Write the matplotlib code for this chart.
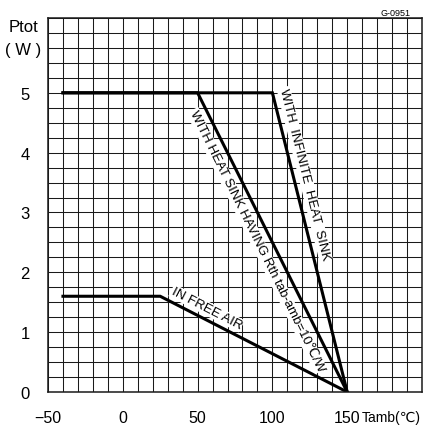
import numpy as np
import matplotlib
matplotlib.use('Agg')
import matplotlib.pyplot as plt

plt.rcParams['font.family'] = ['Liberation Sans', 'DejaVu Sans']

# derating curves, Ptot (W) vs Tamb (degC)
t_inf = [-40, 100, 150]
p_inf = [5, 5, 0]
t_hs = [-40, 50, 150]
p_hs = [5, 5, 0]
t_air = [-40, 25, 150]
p_air = [1.6, 1.6, 0]

x_ticks = [-50, 0, 50, 100, 150]
y_ticks = [0, 1, 2, 3, 4, 5]

fig = plt.figure(figsize=(4.25, 4.27), dpi=100)
ax = fig.add_axes([48 / 425, 34 / 427, 374 / 425, 374 / 427])

ax.set_xlim(-50, 200)
ax.set_ylim(0, 6.25)
ax.set_xticks(x_ticks)
ax.set_yticks(y_ticks)
ax.set_xticks(np.arange(-50, 201, 10), minor=True)
ax.set_yticks(np.arange(0, 6.26, 0.25), minor=True)
ax.grid(which='both', color='#1a1a1a', linewidth=0.75)
ax.set_axisbelow(True)
ax.tick_params(which='both', length=0)
ax.tick_params(axis='x', pad=13, labelsize=11.5)
ax.tick_params(axis='y', pad=13, labelsize=12)
for sp in ax.spines.values():
    sp.set_linewidth(1.1)
    sp.set_color('#1a1a1a')

lw = 2.2
ax.plot(t_inf, p_inf, color='black', lw=lw, solid_joinstyle='miter')
ax.plot(t_hs, p_hs, color='black', lw=lw, solid_joinstyle='miter')
ax.plot(t_air, p_air, color='black', lw=lw, solid_joinstyle='miter')

box = dict(facecolor='white', edgecolor='none', pad=0.6)
ax.text(121.5, 3.65, 'WITH  INFINITE  HEAT  SINK', rotation=-76, fontsize=9.5,
        ha='center', va='center', rotation_mode='anchor', bbox=box)
ax.text(89.5, 2.53, 'WITH HEAT SINK HAVING Rth tab-amb=10\u2103/W', rotation=-63.7,
        fontsize=9.5, ha='center', va='center', rotation_mode='anchor', bbox=box)
ax.text(56, 1.40, 'IN FREE AIR', rotation=-27.3, fontsize=9.5,
        ha='center', va='center', rotation_mode='anchor', bbox=box)

ax.text(-0.065, 0.976, 'Ptot', transform=ax.transAxes, fontsize=12,
        ha='center', va='center')
ax.text(-0.067, 0.917, '( W )', transform=ax.transAxes, fontsize=12,
        ha='center', va='center')
ax.text(159.5, -0.067, 'Tamb(\u2103)', transform=ax.get_xaxis_transform(),
        fontsize=10, ha='left', va='center')
ax.text(0.93, 1.016, 'G-0951', transform=ax.transAxes, fontsize=6.5,
        ha='center', va='center')

fig.savefig('out.png', dpi=100)
